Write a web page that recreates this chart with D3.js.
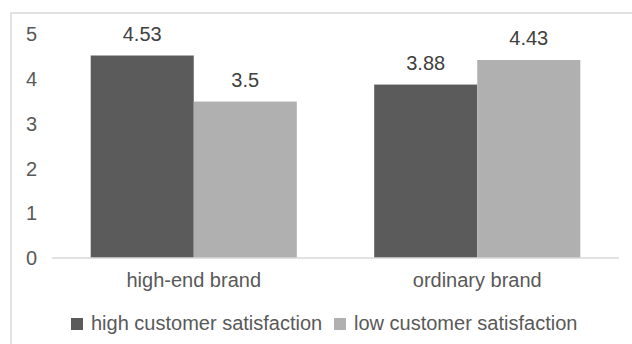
<!DOCTYPE html>
<html lang="en">
<head>
  <meta charset="UTF-8">
  <title></title>
  <style>
    html, body {
      margin: 0;
      overflow: hidden;
      width: 100%;
      height: 100%;
      background: white;
    }
    svg {
      position: absolute;
      top: 0;
      left: 0;
      font-family: 'Liberation Sans', Arial, sans-serif;
    }
  </style>
</head>
<body>
  <svg width="632" height="344"></svg>
</body>
<script src="https://d3js.org/d3.v7.min.js"></script>
<script type="text/javascript">
  const categories = ['high-end brand', 'ordinary brand']
  const seriesNames = ['high customer satisfaction', 'low customer satisfaction']
  const highValues = [4.53, 3.88]
  const lowValues = [3.5, 4.43]
  const yTicks = [0, 1, 2, 3, 4, 5]

  const colors = ['#5b5b5b', '#b0b0b0']
  const fontSize = 20
  const svg = d3.select('svg')

  // chart frame (only top and left edges show)
  svg.append('path')
    .attr('d', 'M 11,344 L 11,13 L 632,13')
    .attr('fill', 'none')
    .attr('stroke', '#d9d9d9')
    .attr('stroke-width', 1.5)

  const plot = { left: 52, right: 619, top: 34.5, bottom: 258 }

  const x0 = d3.scaleBand()
    .domain(categories)
    .range([plot.left, plot.right])
    .paddingInner(0.273)
    .paddingOuter(0.1365)

  const x1 = d3.scaleBand()
    .domain(seriesNames)
    .range([0, x0.bandwidth()])

  const y = d3.scaleLinear()
    .domain([0, 5])
    .range([plot.bottom, plot.top])

  const rows = categories.map((c, i) => ({
    cat: c,
    vals: [highValues[i], lowValues[i]]
  }))

  // bars
  const groups = svg.selectAll('g.grp')
    .data(rows)
    .enter()
    .append('g')
    .attr('class', 'grp')
    .attr('transform', d => 'translate(' + x0(d.cat) + ',0)')

  groups.selectAll('rect')
    .data(d => d.vals.map((v, k) => ({ name: seriesNames[k], v: v, k: k })))
    .enter()
    .append('rect')
    .attr('x', d => x1(d.name))
    .attr('y', d => y(d.v))
    .attr('width', x1.bandwidth())
    .attr('height', d => y(0) - y(d.v))
    .attr('fill', d => colors[d.k])

  // value labels
  groups.selectAll('text')
    .data(d => d.vals.map((v, k) => ({ name: seriesNames[k], v: v })))
    .enter()
    .append('text')
    .attr('x', d => x1(d.name) + x1.bandwidth() / 2)
    .attr('y', d => y(d.v) - 15)
    .attr('text-anchor', 'middle')
    .attr('font-size', fontSize)
    .attr('fill', '#404040')
    .text(d => d.v)

  // baseline
  svg.append('line')
    .attr('x1', plot.left)
    .attr('x2', plot.right)
    .attr('y1', y(0))
    .attr('y2', y(0))
    .attr('stroke', '#d9d9d9')
    .attr('stroke-width', 1.5)

  // y axis labels
  const yAxis = d3.axisLeft(y)
    .tickValues(yTicks)
    .tickFormat(d3.format('d'))
    .tickSize(0)
    .tickPadding(0)
  const ya = svg.append('g')
    .attr('transform', 'translate(37,0)')
    .call(yAxis)
  ya.select('.domain').remove()
  ya.selectAll('text')
    .attr('font-size', fontSize)
    .attr('font-family', "'Liberation Sans', Arial, sans-serif")
    .attr('fill', '#595959')

  // category labels
  const xAxis = d3.axisBottom(x0).tickSize(0).tickPadding(0)
  const xa = svg.append('g')
    .attr('transform', 'translate(0,' + y(0) + ')')
    .call(xAxis)
  xa.select('.domain').remove()
  xa.selectAll('text')
    .attr('dy', null)
    .attr('y', 29)
    .attr('font-size', fontSize)
    .attr('font-family', "'Liberation Sans', Arial, sans-serif")
    .attr('fill', '#595959')

  // legend
  const legendX = [71, 334]
  const legend = svg.selectAll('g.leg')
    .data(seriesNames)
    .enter()
    .append('g')
    .attr('class', 'leg')
    .attr('transform', (d, i) => 'translate(' + legendX[i] + ',318)')

  legend.append('rect')
    .attr('width', 12)
    .attr('height', 12)
    .attr('fill', (d, i) => colors[i])

  legend.append('text')
    .attr('x', 20)
    .attr('y', 12)
    .attr('font-size', fontSize)
    .attr('fill', '#595959')
    .text(d => d)
</script>
</html>
